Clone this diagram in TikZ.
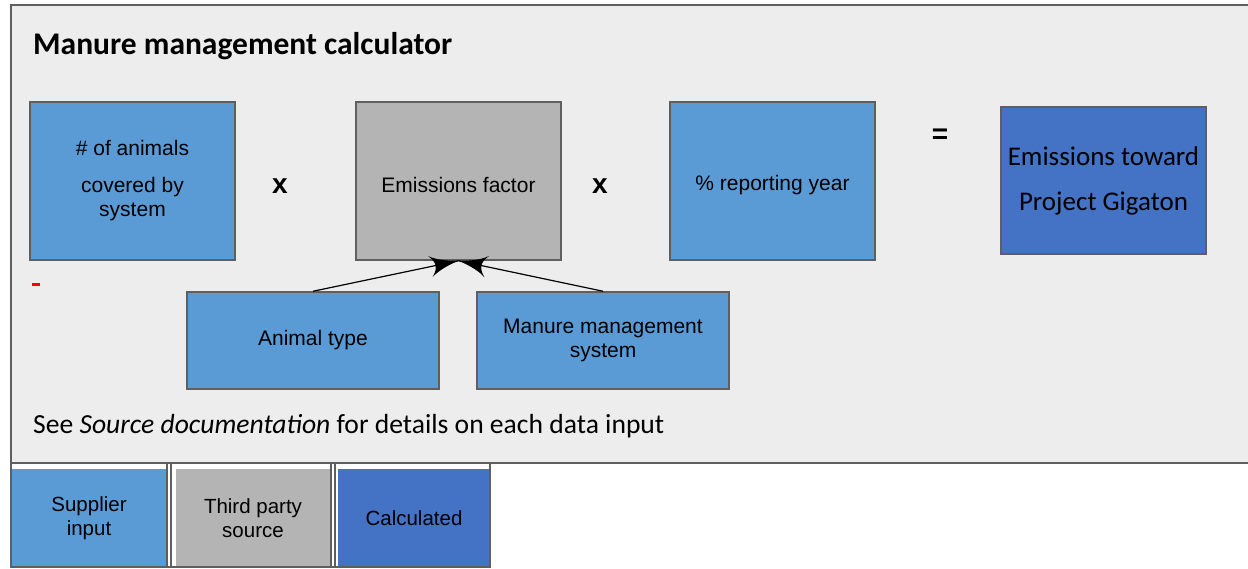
\documentclass[tikz,border=0pt]{standalone}
\usepackage{fontspec}
\setmainfont{Liberation Sans}
\newfontfamily\calibri{Carlito}
\usetikzlibrary{arrows}
\usetikzlibrary{decorations.markings}
\definecolor{supplier}{HTML}{5B9BD5}
\definecolor{thirdparty}{HTML}{B4B4B4}
\definecolor{calculated}{HTML}{4472C4}
\definecolor{panel}{HTML}{EDEDED}
\definecolor{edge}{HTML}{5F5F5F}
\tikzset{->/.style = {decoration={markings,
                                  mark=at position 1 with {\arrow[scale=4.5]{latex'}}},
                      postaction={decorate}}}
\tikzset{box/.style = {draw=edge, line width=1.5, inner sep=0, align=center,
                       minimum width=205, minimum height=158,
                       font=\fontsize{21}{24}\selectfont}}
\tikzset{small box/.style = {box, minimum width=252, minimum height=97}}
\tikzset{legend/.style = {inner sep=0, align=center, minimum width=154, minimum height=98,
                          font=\fontsize{20.5}{24}\selectfont}}
\tikzset{op/.style = {font=\fontsize{28}{30}\selectfont\bfseries}}

\begin{document}
\begin{tikzpicture}[x=1pt, y=-1pt]
    \useasboundingbox (0, 0) rectangle (1248, 569);
    \fill [white] (0, 0) rectangle (1248, 569);
    \filldraw [fill=panel, draw=edge, line width=2] (11, 5) rectangle (1270, 463);

    \node [anchor = base west, inner sep=0, font=\calibri\fontsize{31.5}{34}\selectfont\bfseries] (title) at (33, 55) {Manure management calculator};

    \node [box, fill=supplier] (animals) at (132.5, 181) {\# of animals\\[13pt] covered by\\ system};
    \node [op] (times1) at (280, 186) {x};
    \node [box, fill=thirdparty] (factor) at (458.5, 181) {\raisebox{-4pt}[\height][\depth]{Emissions factor}};
    \node [op] (times2) at (600, 186) {x};
    \node [box, fill=supplier] (reporting) at (772.5, 181) {\raisebox{-4pt}[\height][\depth]{\% reporting year}};
    \node [op] (equals) at (940, 136) {=};
    \node [box, fill=calculated, minimum height=147, font=\calibri\fontsize{27}{45}\selectfont] (gigaton) at (1103.5, 180.5) {Emissions toward\\ Project Gigaton};

    \node [small box, fill=supplier] (animaltype) at (313, 340.5) {Animal type};
    \node [small box, fill=supplier] (mmsystem) at (603, 340.5) {Manure management\\ system};

    \draw [->, line width=1.2] (animaltype.north) -- (factor.south);
    \draw [->, line width=1.2] (mmsystem.north) -- (factor.south);

    \fill [red] (32, 283) rectangle (40, 286);

    \node [anchor = base west, inner sep=0, font=\calibri\fontsize{27.6}{30}\selectfont] (note) at (33, 433) {See \textit{Source documentation} for details on each data input};

    % legend
    \node [legend, fill=supplier] (supplierkey) at (89, 518) {Supplier\\ input};
    \node [legend, fill=thirdparty] (thirdkey) at (253, 518) {Third party\\ source};
    \node [legend, fill=calculated, minimum width=153] (calckey) at (414, 518) {Calculated};
    \draw [edge, line width=1.5] (11, 463) rectangle (490, 567);
    \draw [edge, line width=1.2] (167, 463) -- (167, 567) (171, 463) -- (171, 567);
    \draw [edge, line width=1.2] (331, 463) -- (331, 567) (335, 463) -- (335, 567);
\end{tikzpicture}
\end{document}
